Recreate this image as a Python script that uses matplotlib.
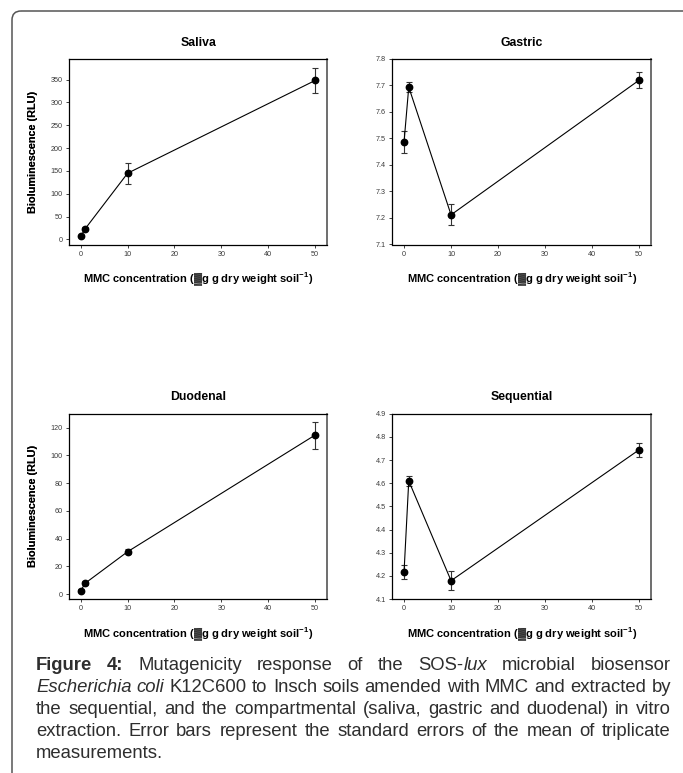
import re
import matplotlib
matplotlib.use('Agg')
import matplotlib.pyplot as plt
import matplotlib.transforms as mtransforms
from matplotlib.patches import FancyBboxPatch

plt.rcParams['font.family'] = ['Liberation Sans', 'DejaVu Sans']
plt.rcParams['mathtext.fontset'] = 'custom'
plt.rcParams['mathtext.rm'] = 'Liberation Sans'
plt.rcParams['mathtext.bf'] = 'Liberation Sans:bold'
plt.rcParams['mathtext.it'] = 'Liberation Sans:italic'

# ---------------- data ----------------
conc = [0, 1, 10, 50]

saliva_mean = [7, 24, 145, 348]
saliva_se = [2, 3, 23, 28]

gastric_mean = [7.487, 7.694, 7.212, 7.720]
gastric_se = [0.040, 0.020, 0.040, 0.030]

duodenal_mean = [2.4, 7.9, 30.5, 114.6]
duodenal_se = [1.0, 1.2, 1.7, 9.7]

sequential_mean = [4.217, 4.610, 4.179, 4.744]
sequential_se = [0.031, 0.020, 0.040, 0.030]

titles = ['Saliva', 'Gastric', 'Duodenal', 'Sequential']
x_ticks = [0, 10, 20, 30, 40, 50]
saliva_yticks = [0, 50, 100, 150, 200, 250, 300, 350]
gastric_yticks = [7.1, 7.2, 7.3, 7.4, 7.5, 7.6, 7.7, 7.8]
duodenal_yticks = [0, 20, 40, 60, 80, 100, 120]
sequential_yticks = [4.1, 4.2, 4.3, 4.4, 4.5, 4.6, 4.7, 4.8, 4.9]

xlabel_text = 'MMC concentration (\u2593g g dry weight soil$^{\\mathbf{-1}}$)'
ylabel_text = 'Bioluminescence (RLU)'

caption_lines = [
    '**Figure** **4:** Mutagenicity response of the SOS-_lux_ microbial biosensor',
    '_Escherichia_ _coli_ K12C600 to Insch soils amended with MMC and extracted by',
    'the sequential, and the compartmental (saliva, gastric and duodenal) in vitro',
    'extraction. Error bars represent the standard errors of the mean of triplicate',
    'measurements.',
]

# ---------------- layout ----------------
W, H = 683, 773
fig = plt.figure(figsize=(W / 100, H / 100), dpi=100)
fig.patch.set_facecolor('white')
px = mtransforms.Affine2D().scale(1, -1).translate(0, H)

panels = [
    dict(mean=saliva_mean, se=saliva_se, yt=saliva_yticks, ylim=(-11, 395),
         box=(69, 327.3, 59, 244.5), ty=43, fmt='{:g}'),
    dict(mean=gastric_mean, se=gastric_se, yt=gastric_yticks, ylim=(7.1, 7.8),
         box=(392.3, 651.3, 59, 244.5), ty=43, fmt='{:.1f}'),
    dict(mean=duodenal_mean, se=duodenal_se, yt=duodenal_yticks, ylim=(-3.6, 130),
         box=(69, 327.3, 413.7, 599), ty=397, fmt='{:g}'),
    dict(mean=sequential_mean, se=sequential_se, yt=sequential_yticks, ylim=(4.1, 4.9),
         box=(392.3, 651.3, 413.7, 599), ty=397, fmt='{:.1f}'),
]

for title, p in zip(titles, panels):
    l, r, t, b = p['box']
    ax = fig.add_axes([l / W, 1 - b / H, (r - l) / W, (b - t) / H])
    ax.errorbar(conc, p['mean'], yerr=p['se'], fmt='none', ecolor='#333333',
                elinewidth=0.8, capsize=2.3, capthick=0.8, zorder=2)
    ax.plot(conc, p['mean'], color='black', lw=0.8, marker='o', ms=4.6,
            mfc='black', mec='black', zorder=3)
    ax.set_xlim(-2.5, 52.6)
    ax.set_ylim(*p['ylim'])
    ax.set_xticks(x_ticks)
    ax.set_xticklabels([str(v) for v in x_ticks])
    ax.set_yticks(p['yt'])
    ax.set_yticklabels([p['fmt'].format(v) for v in p['yt']])
    ax.tick_params(direction='out', length=2.3, width=0.6, pad=2.2,
                   labelsize=5.2, labelcolor='#3a3a3a', color='#222222')
    for s in ax.spines.values():
        s.set_linewidth(0.9)
        s.set_color('black')
    ax.spines['right'].set_color('#555555')
    ax.spines['right'].set_linewidth(1.2)
    cx = (l + r) / 2
    fig.text(cx, p['ty'], title, transform=px, ha='center', va='center',
             fontsize=8.8, fontweight='bold', color='black')
    ax.set_xlabel(xlabel_text, fontsize=8.0, fontweight='bold', color='black')
    ax.xaxis.set_label_coords(0.5, -35 / (b - t))
    ax.xaxis.label.set_va('center')
    ax.set_ylabel(ylabel_text, fontsize=7.8, fontweight='bold', color='black')
    ax.yaxis.set_label_coords((33 - l) / (r - l), 0.5)
    ax.yaxis.label.set_va('center')

# ---------------- border ----------------
border = FancyBboxPatch((12, 11), 900, 900,
                        boxstyle='round,pad=0,rounding_size=9',
                        transform=px, fill=False, ec='#555555', lw=1.1)
fig.add_artist(border)

# ---------------- caption (justified) ----------------
renderer = fig.canvas.get_renderer()
CX0, CX1 = 36, 671
baselines = [670.5, 692.5, 714.5, 736.5, 758.5]
cap_fs = 13.3
cap_color = '#2e2e2e'

def parse_word(word):
    segs = []
    for part in re.split(r'(\*\*.*?\*\*|_.*?_)', word):
        if not part:
            continue
        if part.startswith('**'):
            segs.append((part[2:-2], 'bold', 'normal'))
        elif part.startswith('_') and part.endswith('_') and len(part) > 1:
            segs.append((part[1:-1], 'normal', 'italic'))
        else:
            segs.append((part, 'normal', 'normal'))
    return segs

probe = fig.text(0, 0, 'a a', fontsize=cap_fs, transform=px)
probe2 = fig.text(0, 0, 'aa', fontsize=cap_fs, transform=px)
space_w = probe.get_window_extent(renderer).width - probe2.get_window_extent(renderer).width
probe.remove()
probe2.remove()

for i, line in enumerate(caption_lines):
    words = [parse_word(w) for w in line.split(' ')]
    arts = []
    widths = []
    for w in words:
        segs = []
        tot = 0
        for txt, wt, st in w:
            tt = fig.text(0, baselines[i], txt, transform=px, fontsize=cap_fs,
                          fontweight=wt, fontstyle=st, color=cap_color,
                          ha='left', va='baseline')
            wd = tt.get_window_extent(renderer).width
            segs.append((tt, wd))
            tot += wd
        arts.append(segs)
        widths.append(tot)
    if i < len(caption_lines) - 1 and len(words) > 1:
        gap = (CX1 - CX0 - sum(widths)) / (len(words) - 1)
    else:
        gap = space_w
    x = CX0
    for segs, tot in zip(arts, widths):
        xx = x
        for tt, wd in segs:
            tt.set_position((xx, baselines[i]))
            xx += wd
        x += tot + gap

fig.savefig('out.png', dpi=100, facecolor='white')
